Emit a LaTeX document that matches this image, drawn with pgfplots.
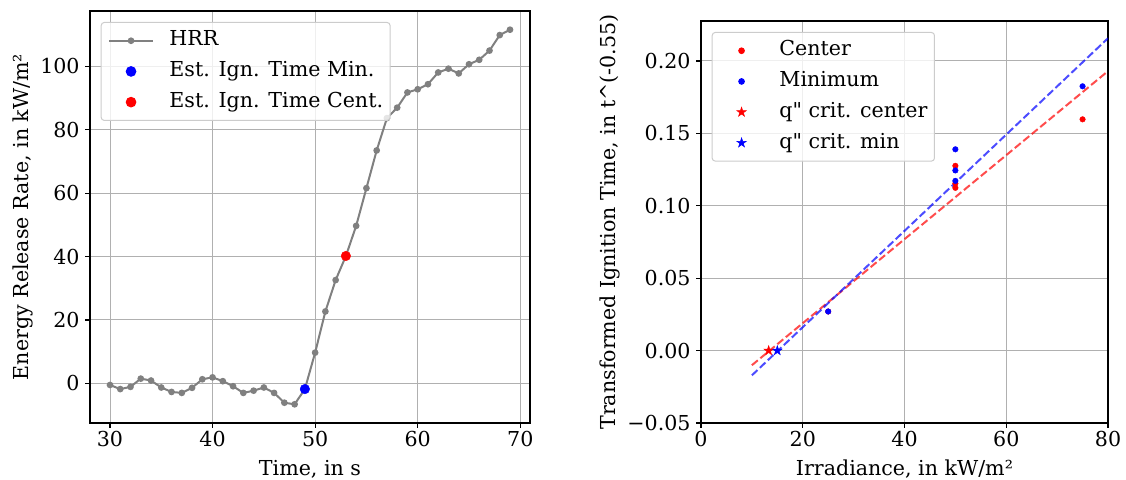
\documentclass[border=0pt]{standalone}
\usepackage{pgfplots}
\pgfplotsset{compat=1.18}
\usepackage{fontspec}
\setmainfont{DejaVu Serif}[Ligatures=TeXOff]
\definecolor{gridc}{RGB}{176,176,176}
\definecolor{legc}{RGB}{204,204,204}
\definecolor{hrrc}{RGB}{128,128,128}
\pgfdeclareplotmark{fstar}{%
  \pgfpathmoveto{\pgfpointpolar{90}{\pgfplotmarksize}}%
  \pgfpathlineto{\pgfpointpolar{126}{0.382\pgfplotmarksize}}%
  \pgfpathlineto{\pgfpointpolar{162}{\pgfplotmarksize}}%
  \pgfpathlineto{\pgfpointpolar{198}{0.382\pgfplotmarksize}}%
  \pgfpathlineto{\pgfpointpolar{234}{\pgfplotmarksize}}%
  \pgfpathlineto{\pgfpointpolar{270}{0.382\pgfplotmarksize}}%
  \pgfpathlineto{\pgfpointpolar{306}{\pgfplotmarksize}}%
  \pgfpathlineto{\pgfpointpolar{342}{0.382\pgfplotmarksize}}%
  \pgfpathlineto{\pgfpointpolar{18}{\pgfplotmarksize}}%
  \pgfpathlineto{\pgfpointpolar{54}{0.382\pgfplotmarksize}}%
  \pgfpathclose
  \pgfusepathqfillstroke
}
\pgfplotstableread{
t hrr
30 -0.5
31 -1.8
32 -1.1
33 1.5
34 0.9
35 -1.3
36 -2.7
37 -3.0
38 -1.4
39 1.3
40 1.9
41 0.7
42 -0.9
43 -3.0
44 -2.3
45 -1.3
46 -3.0
47 -6.1
48 -6.6
49 -1.8
50 9.7
51 22.7
52 32.6
53 40.2
54 49.7
55 61.6
56 73.5
57 83.7
58 87.0
59 91.8
60 92.8
61 94.4
62 98.1
63 99.3
64 97.8
65 100.7
66 102.1
67 105.0
68 109.9
69 111.6
}\hrrtable
\pgfplotsset{
 myaxis/.style={
  scale only axis,
  anchor=south west,
  grid=major,
  major grid style={gridc, line width=1bp},
  axis line style={line width=1.1bp, black},
  tick align=outside,
  tick pos=left,
  major tick length=4.9bp,
  every tick/.style={black, line width=1.1bp},
  /pgf/number format/assume math mode=true,
  tick label style={font=\fontsize{20.6bp}{24bp}\selectfont},
  yticklabel style={xshift=-2bp},
  label style={font=\fontsize{20.6bp}{24bp}\selectfont},
  legend style={font=\fontsize{20.6bp}{24bp}\selectfont, at={(0,1)}, anchor=north west,
    xshift=10.7bp, yshift=-11bp, draw=legc, line width=1bp, rounded corners=3bp,
    fill=white, fill opacity=0.8, text opacity=1, inner xsep=7bp, inner ysep=8.5bp,
    row sep=11.2bp, column sep=15.5bp,
    nodes={inner sep=0bp, text height=15bp, text depth=4.5bp}},
  legend cell align=left,
  xlabel style={at={([yshift=-52.7bp]axis description cs:0.5,0)}, anchor=base},
 },
 dotleg/.style={legend image code/.code={\path (0bp,0bp) (43.7bp,0bp);\draw[fill opacity=1] plot coordinates {(21.85bp,0bp)};}}
}
\begin{document}
\begin{tikzpicture}
\useasboundingbox (0,0) rectangle (1126bp,480bp);
\begin{axis}[myaxis, at={(90bp,57bp)}, width=440bp, height=412bp,
  xmin=28.05, xmax=70.95, ymin=-12.5, ymax=117.5,
  xtick={30,40,...,70}, ytick={0,20,...,100},
  xlabel={Time, in s}, ylabel={Energy Release Rate, in kW/m²},
  ylabel style={at={([xshift=-67bp]axis description cs:0,0.5)}, anchor=center}]
\addplot[hrrc, line width=2bp, mark=*, mark size=2.3bp, mark options={fill=hrrc, draw=hrrc},
  legend image code/.code={\draw[mark repeat=2,mark phase=2,fill opacity=1] plot coordinates {(0bp,0bp) (21.85bp,0bp) (43.7bp,0bp)};}]
  table[x=t, y=hrr] {\hrrtable};
\addlegendentry{HRR}
\addplot[only marks, mark=*, mark size=4.8bp, blue, mark options={fill=blue, draw=blue}, dotleg]
  coordinates {(49,-1.8)};
\addlegendentry{Est. Ign. Time Min.}
\addplot[only marks, mark=*, mark size=4.8bp, red, mark options={fill=red, draw=red}, dotleg]
  coordinates {(53,40.2)};
\addlegendentry{Est. Ign. Time Cent.}
\end{axis}
\begin{axis}[myaxis, at={(701bp,57bp)}, width=407bp, height=402bp,
  xmin=0, xmax=80, ymin=-0.05, ymax=0.2276,
  xtick={0,20,...,80}, ytick={-0.05,0,0.05,0.1,0.15,0.2},
  yticklabels={−0.05,0.00,0.05,0.10,0.15,0.20},
  xlabel={Irradiance, in kW/m²},
  ylabel={Transformed Ignition Time, in t\textasciicircum(-0.55)},
  ylabel style={at={([xshift=-91bp]axis description cs:0,0.5)}, anchor=center}]
\addplot[forget plot, red, opacity=0.7, line width=2bp, dash pattern=on 7.7bp off 3.3bp]
  coordinates {(10,-0.0101) (80,0.193)};
\addplot[forget plot, blue, opacity=0.7, line width=2bp, dash pattern=on 7.7bp off 3.3bp]
  coordinates {(10,-0.0171) (80,0.2157)};
\addplot[only marks, mark=*, mark size=2.8bp, red, mark options={fill=red, draw=red}, dotleg]
  coordinates {(25,0.027) (50,0.1276) (50,0.1154) (50,0.1124) (75,0.1597)};
\addlegendentry{Center}
\addplot[only marks, mark=*, mark size=2.8bp, blue, mark options={fill=blue, draw=blue}, dotleg]
  coordinates {(25,0.027) (50,0.139) (50,0.1244) (50,0.1172) (75,0.1825)};
\addlegendentry{Minimum}
\addplot[only marks, mark=fstar, mark size=5bp, red, mark options={fill=red, draw=red, line width=0.5bp}, dotleg]
  coordinates {(13.3,0)};
\addlegendentry{q" crit. center}
\addplot[only marks, mark=fstar, mark size=5bp, blue, mark options={fill=blue, draw=blue, line width=0.5bp}, dotleg]
  coordinates {(15.0,0)};
\addlegendentry{q" crit. min}
\end{axis}
\end{tikzpicture}
\end{document}
